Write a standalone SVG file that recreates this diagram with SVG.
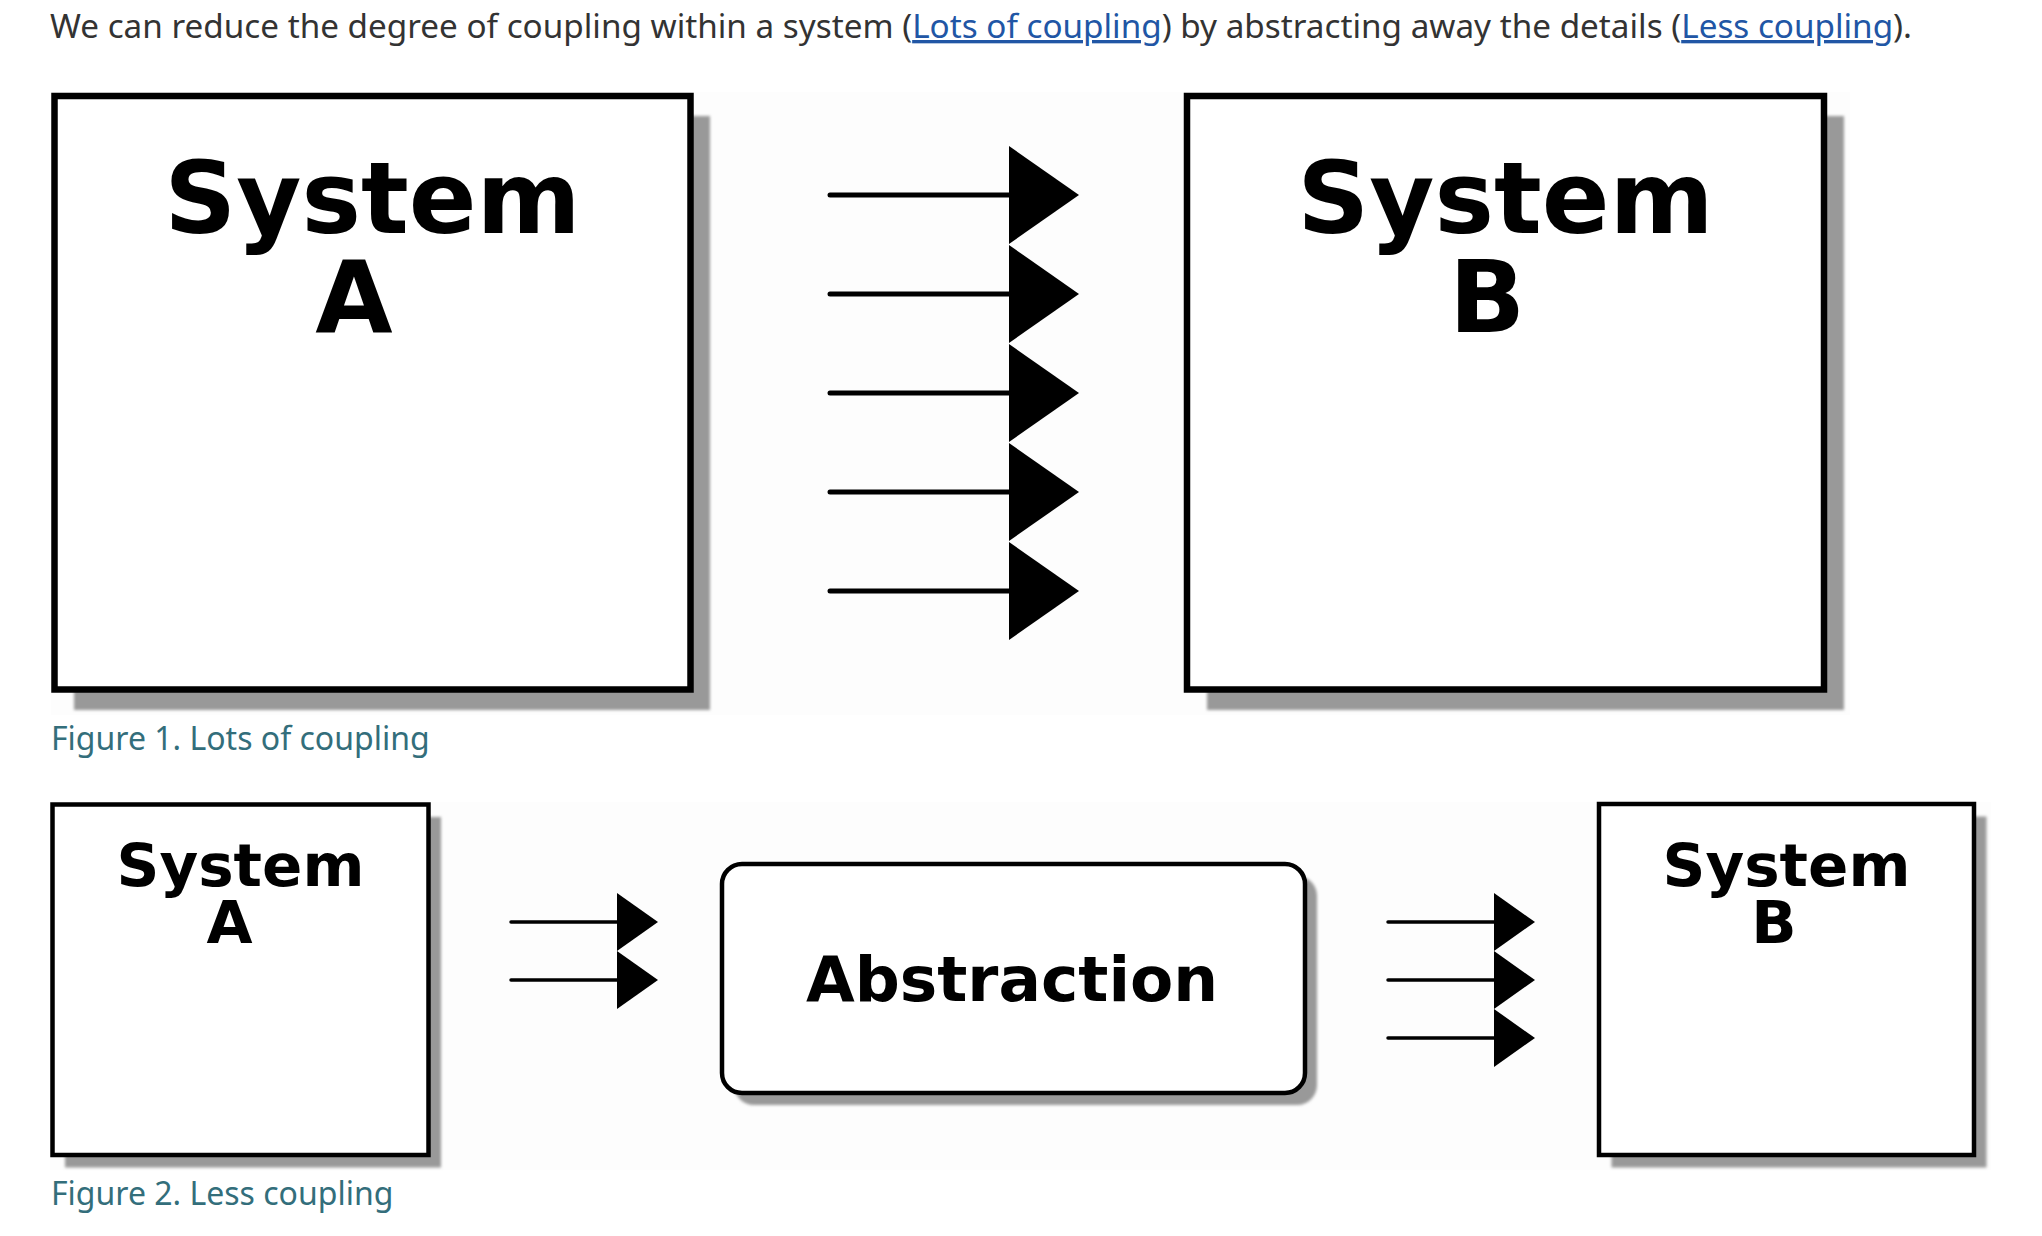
<svg xmlns="http://www.w3.org/2000/svg" width="2042" height="1236" viewBox="0 0 2042 1236">
  <style>
    .para { font-family: "Noto Sans", "Open Sans", sans-serif; font-size: 33.25px; fill: #333333; }
    .link { fill: #2156a5; text-decoration: underline; }
    .caption { font-family: "Noto Sans", "Open Sans", sans-serif; font-size: 32px; fill: #336e7b; }
    .lbl1 { font-family: "DejaVu Sans", sans-serif; font-weight: bold; font-size: 100px; fill: #000; text-anchor: middle; }
    .lbl2 { font-family: "DejaVu Sans", sans-serif; font-weight: bold; font-size: 59.5px; fill: #000; text-anchor: middle; }
    .lbl3 { font-family: "DejaVu Sans", sans-serif; font-weight: bold; font-size: 63px; fill: #000; text-anchor: middle; }
    .box1 { fill: #ffffff; stroke: #000; stroke-width: 6.5; }
    .box2 { fill: #ffffff; stroke: #000; stroke-width: 4.5; }
    .shadow { fill: #999999; filter: url(#blur); }
    .bg { fill: #fdfdfd; }
    .conn1 { stroke: #000; stroke-width: 5; stroke-linecap: round; fill: none; marker-end: url(#head1); }
    .conn2 { stroke: #000; stroke-width: 3.5; stroke-linecap: round; fill: none; marker-end: url(#head2); }
  </style>
  <defs>
    <filter id="blur" x="-5%" y="-5%" width="110%" height="110%">
      <feGaussianBlur stdDeviation="1.5"/>
    </filter>
    <marker id="head1" markerUnits="userSpaceOnUse" markerWidth="70" markerHeight="98" refX="0" refY="49" orient="auto" viewBox="0 0 70 98">
      <path d="M0,0 L70,49 L0,98 Z" fill="#000"/>
    </marker>
    <marker id="head2" markerUnits="userSpaceOnUse" markerWidth="41" markerHeight="58" refX="0" refY="29" orient="auto" viewBox="0 0 41 58">
      <path d="M0,0 L41,29 L0,58 Z" fill="#000"/>
    </marker>
  </defs>

  <rect width="2042" height="1236" fill="#ffffff"/>

  <text class="para" x="50" y="38">We can reduce the degree of coupling within a system (<tspan class="link">Lots of coupling</tspan>) by abstracting away the details (<tspan class="link">Less coupling</tspan>).</text>

  <!-- Figure 1 -->
  <rect class="bg" x="51" y="92" width="1799" height="623"/>

  <g id="fig1-system-a">
    <rect class="shadow" x="74" y="116" width="636" height="594"/>
    <rect class="box1" x="54.5" y="96" width="636" height="593.5"/>
    <text class="lbl1" x="372.5" y="233">System</text>
    <text class="lbl1" x="354" y="332">A</text>
  </g>

  <g id="fig1-system-b">
    <rect class="shadow" x="1207" y="116" width="637" height="594"/>
    <rect class="box1" x="1187" y="96" width="637" height="593.5"/>
    <text class="lbl1" x="1505.5" y="233">System</text>
    <text class="lbl1" x="1487" y="332">B</text>
  </g>

  <g id="fig1-connectors">
    <line class="conn1" x1="830" y1="195" x2="1009" y2="195"/>
    <line class="conn1" x1="830" y1="294" x2="1009" y2="294"/>
    <line class="conn1" x1="830" y1="393" x2="1009" y2="393"/>
    <line class="conn1" x1="830" y1="492" x2="1009" y2="492"/>
    <line class="conn1" x1="830" y1="591" x2="1009" y2="591"/>
  </g>

  <text class="caption" x="51" y="750">Figure 1. Lots of coupling</text>

  <!-- Figure 2 -->
  <rect class="bg" x="50" y="802" width="1941" height="368"/>

  <g id="fig2-system-a">
    <rect class="shadow" x="65" y="817" width="376" height="350.5"/>
    <rect class="box2" x="52.5" y="804.5" width="376" height="350.5"/>
    <text class="lbl2" x="240.5" y="886">System</text>
    <text class="lbl2" x="229.5" y="943">A</text>
  </g>

  <g id="fig2-abstraction">
    <rect class="shadow" x="734" y="876" width="583" height="229" rx="20" ry="20"/>
    <rect class="box2" x="722" y="864" width="583" height="229" rx="20" ry="20"/>
    <text class="lbl3" x="1012" y="1001">Abstraction</text>
  </g>

  <g id="fig2-system-b">
    <rect class="shadow" x="1611.5" y="816.5" width="375" height="351"/>
    <rect class="box2" x="1599" y="804" width="375" height="351"/>
    <text class="lbl2" x="1786.5" y="886">System</text>
    <text class="lbl2" x="1774" y="943">B</text>
  </g>

  <g id="fig2-connectors">
    <line class="conn2" x1="511" y1="922" x2="617" y2="922"/>
    <line class="conn2" x1="511" y1="980" x2="617" y2="980"/>
    <line class="conn2" x1="1388" y1="922" x2="1494" y2="922"/>
    <line class="conn2" x1="1388" y1="980" x2="1494" y2="980"/>
    <line class="conn2" x1="1388" y1="1038" x2="1494" y2="1038"/>
  </g>

  <text class="caption" x="51" y="1205">Figure 2. Less coupling</text>
</svg>
